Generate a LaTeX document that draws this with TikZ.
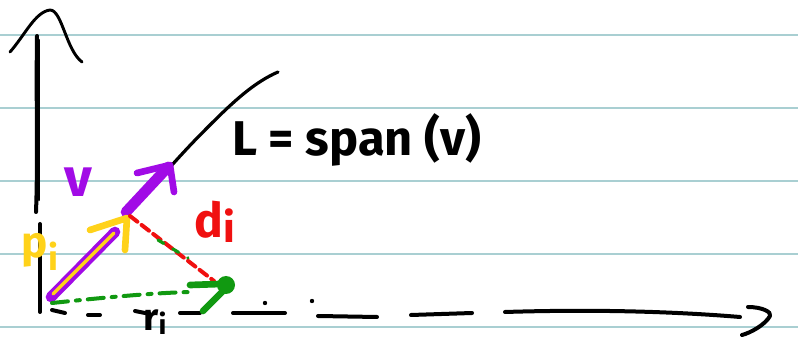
\documentclass[tikz,border=0pt]{standalone}
\usepackage{fontspec}
\setmainfont{Fira Sans}
\begin{document}
\begin{tikzpicture}[x=0.75pt,y=-0.75pt,line cap=round,line join=round,
  rule/.style={draw=ruleblue,line width=1.1pt},
  ink/.style={draw=black,line width=3pt},
  lbl/.style={inner sep=0pt,font=\bfseries\fontsize{30}{30}\selectfont}]
\definecolor{ruleblue}{HTML}{A9CFD2}
\definecolor{vpurple}{HTML}{A10BE6}
\definecolor{pyellow}{HTML}{FFD21A}
\definecolor{dred}{HTML}{F01010}
\definecolor{rgreen}{HTML}{119911}
\useasboundingbox (0,0) rectangle (798,348);
% ruled lines
\foreach \yy in {35,108,181,254,327} \draw[rule] (0,\yy) -- (798,\yy);
% y axis
\draw[ink] (37,36) .. controls (36,100) and (38,160) .. (36,212);
\draw[ink,line width=2pt] (39,40) -- (39,200);
\draw[ink] (40,224) -- (40,312);
\draw[ink,line width=2.2pt] (10,52) .. controls (25,35) and (35,12) .. (50,10) .. controls (62,10) and (66,50) .. (82,62);
% x axis (dashed, hand-drawn)
\draw[ink] (52,310) -- (65,313);
\draw[ink] (88,315) -- (100,315);
\draw[ink] (135,311) -- (150,314);
\draw[ink] (180,313) -- (200,313);
\draw[ink] (233,313) -- (285,313);
\fill (265,303) circle (2.2);
\fill (312,301) circle (2.2);
\draw[ink] (318,316) -- (377,317);
\draw[ink] (411,315) -- (472,313);
\draw[ink] (505,312) .. controls (600,309) and (680,312) .. (740,317);
\draw[ink] (748,307) .. controls (762,307) and (772,312) .. (770,316) .. controls (765,325) and (750,333) .. (742,335);
% line L
\draw[ink,line width=2.4pt] (172,165) .. controls (190,145) and (200,135) .. (210,125) .. controls (235,100) and (255,82) .. (278,72);
% purple vector v
\draw[draw=vpurple,line width=8pt] (126,212) -- (168,167);
\draw[draw=vpurple,line width=5pt] (137,173) -- (170,165) -- (174,192);
% p_i (yellow over purple)
\draw[draw=vpurple,line width=8pt] (51,297) -- (115,232);
\draw[draw=pyellow,line width=2.6pt] (53,294) -- (114,233);
\draw[draw=pyellow,line width=5pt] (90,230) -- (127,218) -- (125,250);
% d_i red dashed
\draw[draw=dred,line width=3pt,dash pattern=on 7pt off 4pt] (130,216) -- (214,281);
\draw[draw=rgreen,line width=2.4pt,dash pattern=on 5pt off 8pt] (158,240) -- (188,258);
% green point and r_i
\fill[rgreen] (226,285) circle (9);
\draw[draw=rgreen,line width=5pt] (190,285) -- (220,284);
\draw[draw=rgreen,line width=5pt] (226,288) -- (203,311);
\draw[draw=rgreen,line width=3pt,dash pattern=on 12pt off 6pt on 3pt off 6pt] (52,303) .. controls (100,298) and (150,293) .. (190,292);
% labels
\node[lbl,anchor=west,scale=1.22] (Lspan) at (232,140) {L = span (v)};
\node[lbl,text=vpurple,scale=1.35] (vlabel) at (78,182) {v};
\node[lbl,text=pyellow,scale=1.1] (plabel) at (40,252) {p\raisebox{-9pt}{\fontsize{24}{24}\selectfont i}};
\node[lbl,text=dred,scale=1.2] (dlabel) at (215,222) {d\raisebox{-3pt}{\fontsize{26}{26}\selectfont i}};
\node[lbl,scale=0.95] (rlabel) at (155,322) {r\raisebox{-3pt}{\fontsize{22}{22}\selectfont i}};
\end{tikzpicture}
\end{document}
